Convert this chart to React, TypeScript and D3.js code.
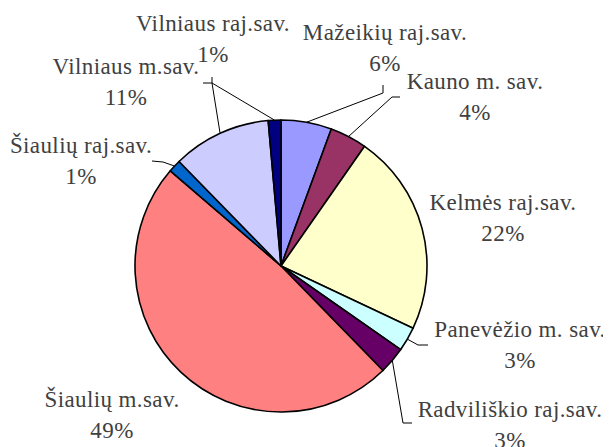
import React from "react";
import * as d3 from "d3";

const categories = [
  "Mažeikių raj.sav.",
  "Kauno m. sav.",
  "Kelmės raj.sav.",
  "Panevėžio m. sav.",
  "Radviliškio raj.sav.",
  "Šiaulių m.sav.",
  "Šiaulių raj.sav.",
  "Vilniaus m.sav.",
  "Vilniaus raj.sav.",
];
const values = [5.6, 4.1, 22.3, 2.7, 3.0, 48.6, 1.4, 10.9, 1.4];
const colors = [
  "#9999FF",
  "#993366",
  "#FFFFCC",
  "#CCFFFF",
  "#660066",
  "#FF8080",
  "#0066CC",
  "#CCCCFF",
  "#000080",
];

// layout: label centre x, first baseline y, leader elbow points (null = no leader)
const labelLayout: { x: number; y: number; leader: [number, number][] | null }[] = [
  { x: 385, y: 40, leader: [[383, 93], [383, 85]] },
  { x: 475, y: 89, leader: [[392, 97], [400, 97]] },
  { x: 503, y: 210, leader: null },
  { x: 520, y: 337, leader: [[418, 345], [428, 345]] },
  { x: 510, y: 417, leader: [[403, 423], [412, 423]] },
  { x: 112, y: 407, leader: null },
  { x: 81, y: 153, leader: [[163, 162], [152, 161]] },
  { x: 126, y: 74, leader: [[212, 83], [203, 83]] },
  { x: 213, y: 31, leader: [[212, 83], [212, 77]] },
];

const W = 611;
const H = 447;
const cx = 281;
const cy = 266;
const R = 146;
const lineGap = 31;
const FONT = "Liberation Serif";
const textStyle = { fontFamily: FONT, fontSize: "23px", letterSpacing: "0.4px" };

export default function App() {
  const total = d3.sum(values);
  const pie = d3
    .pie<number>()
    .sort(null)
    .value((d) => d)
    .startAngle(0)
    .endAngle(2 * Math.PI);
  const arcs = pie(values);
  const arcGen = d3.arc<d3.PieArcDatum<number>>().innerRadius(0).outerRadius(R);

  return (
    <svg
      width={W}
      height={H}
      style={{ display: "block", margin: "-8px 0 0 -8px", background: "#fff" }}
    >
      <g transform={`translate(${cx},${cy})`}>
        {arcs.map((a, i) => (
          <path
            key={i}
            d={arcGen(a) || ""}
            fill={colors[i]}
            stroke="#000"
            strokeWidth={1.6}
            strokeLinejoin="round"
          />
        ))}
      </g>
      {arcs.map((a, i) => {
        const lay = labelLayout[i];
        if (!lay.leader) return null;
        const mid = (a.startAngle + a.endAngle) / 2;
        const sx = cx + R * Math.sin(mid);
        const sy = cy - R * Math.cos(mid);
        const pts: [number, number][] = [[sx, sy], ...lay.leader];
        const line = d3.line()(pts) || "";
        return <path key={"l" + i} d={line} fill="none" stroke="#000" strokeWidth={1} />;
      })}
      {categories.map((c, i) => {
        const lay = labelLayout[i];
        const pct = Math.round((values[i] / total) * 100);
        return (
          <g key={"t" + i}>
            <text x={lay.x} y={lay.y} textAnchor="middle" style={textStyle} fill="#404040">
              {c}
            </text>
            <text
              x={lay.x}
              y={lay.y + lineGap}
              textAnchor="middle"
              style={textStyle}
              fill="#404040"
            >
              {pct}%
            </text>
          </g>
        );
      })}
    </svg>
  );
}
